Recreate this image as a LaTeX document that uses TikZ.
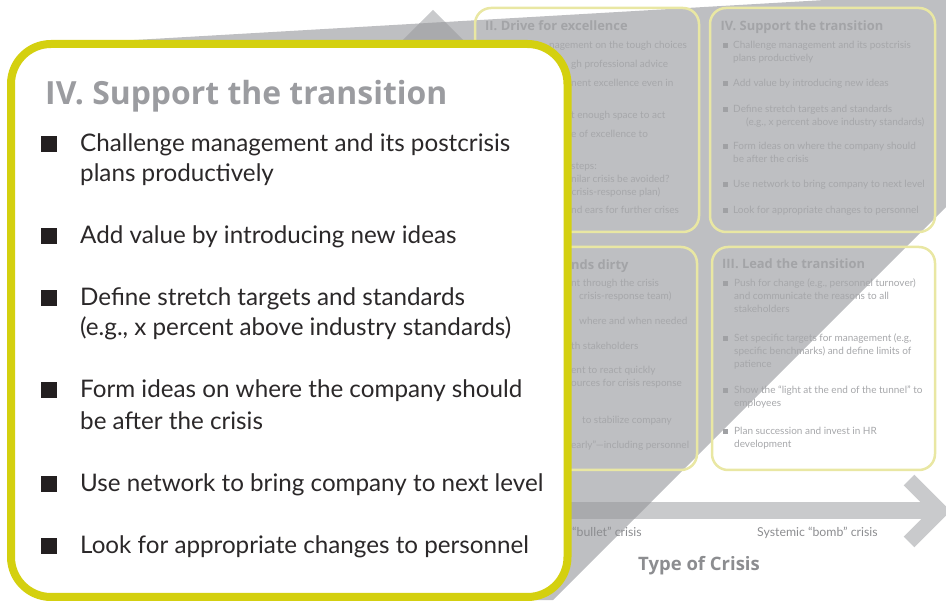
\documentclass[tikz,border=0pt]{standalone}
\usepackage{fontspec}
\setmainfont{Lato}
\newfontfamily\tfont{Open Sans}
\definecolor{cyel}{HTML}{D4D00F}
\definecolor{pyel}{HTML}{E9E7A3}
\definecolor{wedgec}{HTML}{BEBFC2}
\definecolor{darkc}{HTML}{A9AAAD}
\definecolor{lightc}{HTML}{C9CACC}
\definecolor{ptext}{HTML}{A6A7AA}
\definecolor{ptitlec}{HTML}{A3A4A7}
\definecolor{pbulc}{HTML}{A0A1A4}
\definecolor{ctitlec}{HTML}{9B9CA0}
\definecolor{ctextc}{HTML}{2B2829}
\definecolor{cbulc}{HTML}{231F20}
\definecolor{axc}{HTML}{8C8D90}
\begin{document}
\begin{tikzpicture}[x=1pt,y=-1pt,
  ptxt/.style={anchor=base west, inner sep=0pt, text=ptext, font=\fontsize{10}{12}\selectfont},
  ptitle/.style={anchor=base west, inner sep=0pt, text=ptitlec, font=\tfont\bfseries\fontsize{12.9}{15}\selectfont},
  pbul/.style={fill=pbulc, minimum size=4.5pt, inner sep=0pt},
  panel/.style={draw=pyel, line width=2.5pt, rounded corners=16pt, inner sep=0pt},
  ctxt/.style={anchor=base west, inner sep=0pt, text=ctextc, font=\fontsize{24.2}{28}\selectfont},
  ctitle/.style={anchor=base west, inner sep=0pt, text=ctitlec, font=\tfont\bfseries\fontsize{31.9}{36}\selectfont},
  cbul/.style={fill=cbulc, minimum size=15.5pt, inner sep=0pt},
  axlab/.style={anchor=base west, inner sep=0pt, text=axc, font=\fontsize{12.3}{14}\selectfont},
  axtitle/.style={anchor=base west, inner sep=0pt, text=axc, font=\tfont\bfseries\fontsize{18.5}{21}\selectfont},
  shaft/.style={line width=17pt},
  chev/.style={line width=15pt, miter limit=10}
]
\useasboundingbox (0,0) rectangle (946,601);

% axis geometry
\coordinate (sh0) at (540,510.5);
\coordinate (sh1) at (937,510.5);
\coordinate (ch0) at (909,480);
\coordinate (ch1) at (940,511);
\coordinate (ch2) at (909,542);
\coordinate (tri0) at (398,45);
\coordinate (tri1) at (433,10);
\coordinate (tri2) at (468,45);
% wedge
\coordinate (w1) at (100,42);
\coordinate (w2) at (946,-7);
\coordinate (w3) at (946,207);
\coordinate (w4) at (553,600);
\coordinate (w5) at (100,600);

% light parts of axes
\draw[lightc, shaft] (sh0) -- (sh1);
\fill[lightc] (tri0) -- (tri1) -- (tri2) -- cycle;

% wedge
\fill[wedgec] (w1) -- (w2) -- (w3) -- (w4) -- (w5) -- cycle;
\begin{scope}
  \clip (w1) -- (w2) -- (w3) -- (w4) -- (w5) -- cycle;
  \draw[darkc, shaft] (sh0) -- (sh1);
  \fill[darkc] (tri0) -- (tri1) -- (tri2) -- cycle;
\end{scope}

% panels
\node[panel, minimum width=224pt, minimum height=224pt] (p2) at (587,120) {};
\node[panel, minimum width=225pt, minimum height=224pt] (p4) at (822.5,120) {};
\node[panel, minimum width=222pt, minimum height=223pt] (p1) at (586,358.5) {};
\node[panel, minimum width=223pt, minimum height=223pt] (p3) at (823.5,358.5) {};

% panel II (partly hidden)
\node[ptitle] (p2t) at (485,31) {II. Drive for excellence};
\foreach \x/\y/\t [count=\i] in {
  549/48.5/{nagement on the tough choices},
  571/67.5/{gh professional advice},
  571/86.5/{nent excellence even in},
  571/118.5/{t enough space to act},
  571/137.5/{e of excellence to},
  571/169.5/{steps:},
  571/182.5/{nilar crisis be avoided?},
  569/195.5/{(crisis-response plan)},
  571/213.5/{nd ears for further crises}}
  {\node[ptxt] (p2l\i) at (\x,\y) {\t};}

% panel I (partly hidden)
\node[ptitle] (p1t) at (571,270) {nds dirty};
\foreach \x/\y/\t [count=\i] in {
  571/286.5/{nt through the crisis},
  579/299.5/{crisis-response team)},
  579/324.5/{where and when needed},
  571/349.5/{th stakeholders},
  571/373.5/{ent to react quickly},
  571/386.5/{ources for crisis response},
  582/423.5/{to stabilize company},
  571/448.5/{early”—including personnel}}
  {\node[ptxt] (p1l\i) at (\x,\y) {\t};}

% panel IV
\node[ptitle] (p4t) at (720.5,31) {IV. Support the transition};
\foreach \x/\y/\t [count=\i] in {
  733/49/{Challenge management and its postcrisis},
  733/62/{plans productively},
  733/87/{Add value by introducing new ideas},
  733/113/{Define stretch targets and standards},
  746/125.5/{(e.g., x percent above industry standards)},
  733/150/{Form ideas on where the company should},
  733/163/{be after the crisis},
  733/188/{Use network to bring company to next level},
  733/214/{Look for appropriate changes to personnel}}
  {\node[ptxt] (p4l\i) at (\x,\y) {\t};}
\foreach \y [count=\i] in {49,87,113,150,188,214}
  {\node[pbul] (p4b\i) at (725.3,\y-3.6) {};}

% panel III
\node[ptitle] (p3t) at (722,269) {III. Lead the transition};
\foreach \y/\t [count=\i] in {
  287/{Push for change (e.g., personnel turnover)},
  300/{and communicate the reasons to all},
  312.5/{stakeholders},
  342/{Set specific targets for management (e.g,},
  355/{specific benchmarks) and define limits of},
  367.5/{patience},
  394/{Show the “light at the end of the tunnel” to},
  407/{employees},
  435/{Plan succession and invest in HR},
  448/{development}}
  {\node[ptxt] (p3l\i) at (734,\y) {\t};}
\foreach \y [count=\i] in {287,342,394,435}
  {\node[pbul] (p3b\i) at (725.3,\y-3.6) {};}

% chevron arrowhead
\draw[lightc, chev] (ch0) -- (ch1) -- (ch2);

% axis labels
\node[axlab] (lb1) at (572,537) {“bullet” crisis};
\node[axlab] (lb2) at (757,537) {Systemic “bomb” crisis};
\node[axtitle] (lbt) at (638,571) {Type of Crisis};

% callout
\node[draw=cyel, line width=8pt, fill=white, rounded corners=40pt, inner sep=0pt,
      minimum width=556.5pt, minimum height=553pt] (callout) at (289.25,320.5) {};
\node[ctitle] (ct) at (45,105) {IV. Support the transition};
\foreach \y/\t [count=\i] in {
  152/{Challenge management and its postcrisis},
  182/{plans productively},
  244/{Add value by introducing new ideas},
  306/{Define stretch targets and standards},
  336/{(e.g., x percent above industry standards)},
  398/{Form ideas on where the company should},
  430/{be after the crisis},
  492/{Use network to bring company to next level},
  554/{Look for appropriate changes to personnel}}
  {\node[ctxt] (cl\i) at (80,\y) {\t};}
\foreach \y [count=\i] in {152,244,306,398,492,554}
  {\node[cbul] (cb\i) at (49,\y-8) {};}
\end{tikzpicture}
\end{document}
